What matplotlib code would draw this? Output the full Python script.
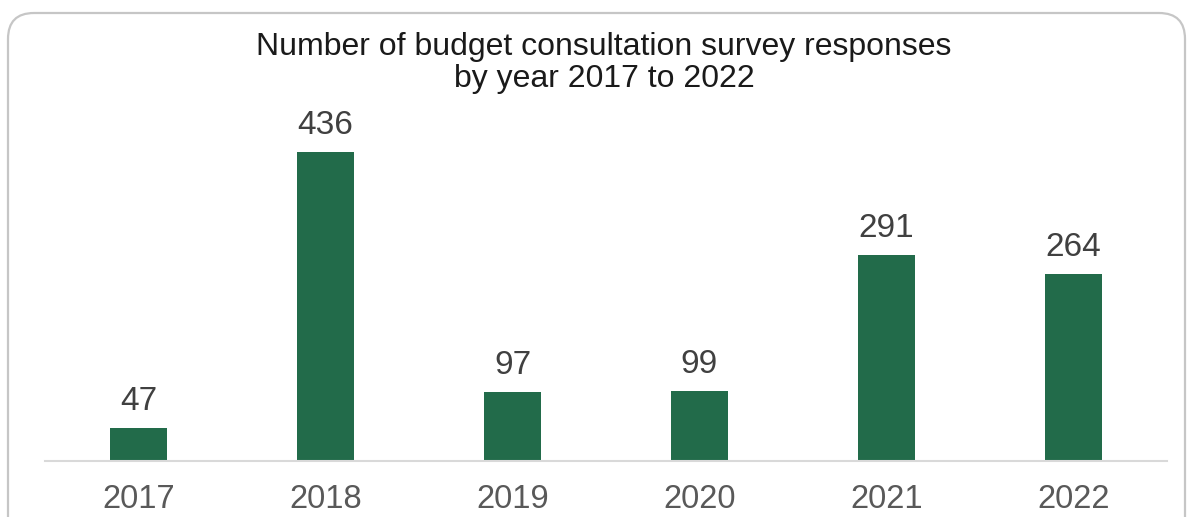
#!/usr/bin/env python
# coding: utf-8
"""Bar chart of budget consultation survey responses per year."""

import matplotlib
matplotlib.use('Agg')
import matplotlib.pyplot as plt
from matplotlib.patches import FancyBboxPatch

years = ['2017', '2018', '2019', '2020', '2021', '2022']
responses = [47, 436, 97, 99, 291, 264]

title = 'Number of budget consultation survey responses\nby year 2017 to 2022'

plt.rcParams['font.family'] = ['Liberation Sans', 'DejaVu Sans']

W, H = 1190, 517
dpi = 100
fig = plt.figure(figsize=(W / dpi, H / dpi), dpi=dpi)

# background axes in pixel units for the rounded frame
bg = fig.add_axes([0, 0, 1, 1])
bg.set_xlim(0, W)
bg.set_ylim(H, 0)
bg.axis('off')
frame = FancyBboxPatch((8, 13), 1177, 530,
                       boxstyle='round,pad=0,rounding_size=26',
                       facecolor='white', edgecolor='#c6c6c6', linewidth=1.6)
bg.add_patch(frame)

# plot area
left, right = 45 / W, 1167 / W
bottom, top = 1 - 461 / H, 1 - 60 / H
ax = fig.add_axes([left, bottom, right - left, top - bottom])
ax.patch.set_alpha(0)
px_per_unit = 309 / 436
ax.set_ylim(0, (461 - 60) / px_per_unit)
ax.set_xlim(-0.5, len(years) - 0.5)

x = range(len(years))
bars = ax.bar(x, responses, width=0.31, color='#226b4a')
for xi, v in zip(x, responses):
    ax.annotate(str(v), (xi, v), xytext=(0, 8), textcoords='offset points',
                ha='center', va='bottom', fontsize=24, color='#404040')

for side in ['left', 'right', 'top']:
    ax.spines[side].set_visible(False)
ax.spines['bottom'].set_color('#d9d9d9')
ax.spines['bottom'].set_linewidth(1.5)
ax.set_yticks([])
ax.set_xticks(list(x))
ax.set_xticklabels(years, fontsize=23.5, color='#595959')
ax.tick_params(axis='x', length=0, pad=16.5)

fig.text(604 / W, 1 - 63 / H, title, ha='center', va='center',
         fontsize=23, color='#1a1a1a', linespacing=1.1)

fig.savefig('out.png', dpi=dpi)
